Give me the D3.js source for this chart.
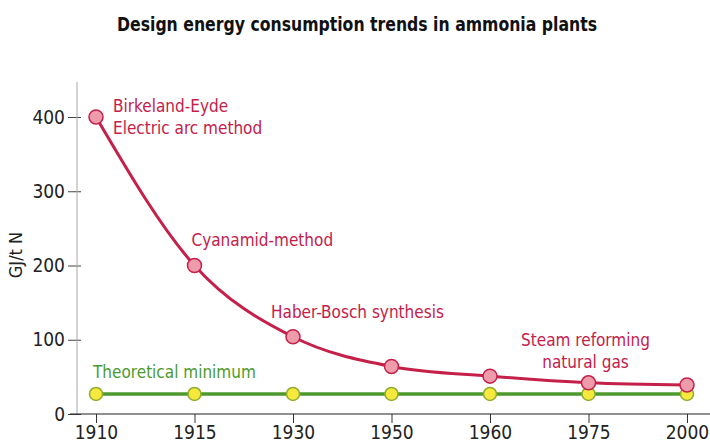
<!DOCTYPE html>
<html>
<head>
<meta charset="utf-8">
<script src="https://cdn.jsdelivr.net/npm/d3@7"></script>
<style>
  body { margin: 0; background: #fff; }
  svg text { font-family: "DejaVu Sans Condensed", "Liberation Sans Narrow", "Open Sans", sans-serif; }
</style>
</head>
<body>
<div id="chart"></div>
<script>
// Data
const years = ["1910", "1915", "1930", "1950", "1960", "1975", "2000"];
const designValues = [400, 200, 104, 64, 51, 42, 39];
const minimumValues = [27, 27, 27, 27, 27, 27, 27];
const yTicks = [0, 100, 200, 300, 400];

const processLabels = [
  { year: "1910", value: 400, lines: ["Birkeland-Eyde", "Electric arc method"], dx: 17, dy: -5, anchor: "start" },
  { year: "1915", value: 200, lines: ["Cyanamid-method"], dx: -3, dy: -20, anchor: "start" },
  { year: "1930", value: 104, lines: ["Haber-Bosch synthesis"], dx: -22, dy: -19, anchor: "start" },
  { year: "1975", value: 42, lines: ["Steam reforming", "natural gas"], dx: -3, dy: -37, anchor: "middle" }
];

const w = 710;
const h = 442;
const red = "#c4204a";
const green = "#4c9a2e";

const svg = d3.select("#chart")
  .append("svg")
  .attr("width", w)
  .attr("height", h);

// Scales
const xScale = d3.scalePoint()
  .domain(years)
  .range([96, 687]);

const yScale = d3.scaleLinear()
  .domain([0, 400])
  .range([414, 117]);

// Title
svg.append("text")
  .attr("x", 357)
  .attr("y", 31)
  .attr("text-anchor", "middle")
  .attr("textLength", 480)
  .attr("lengthAdjust", "spacingAndGlyphs")
  .style("font-size", "20px")
  .style("font-weight", "bold")
  .style("fill", "#111")
  .text("Design energy consumption trends in ammonia plants");

// Y axis
const yAxis = d3.axisLeft(yScale).tickValues(yTicks).tickSize(10).tickSizeOuter(0);
const gy = svg.append("g")
  .attr("transform", "translate(77,0)")
  .call(yAxis);
gy.select(".domain").remove();
gy.append("line")
  .attr("x1", 0).attr("x2", 0)
  .attr("y1", 82).attr("y2", 414)
  .attr("stroke", "#a8a8a8");
gy.selectAll(".tick line").attr("stroke", "#444").attr("x1", 4).attr("x2", -9);
gy.selectAll(".tick text")
  .attr("x", -12)
  .style("font-size", "19px")
  .style("fill", "#222");

svg.append("text")
  .attr("transform", "translate(22,255) rotate(-90)")
  .attr("text-anchor", "middle")
  .style("font-size", "18px")
  .style("fill", "#222")
  .text("GJ/t N");

// X axis
const xAxis = d3.axisBottom(xScale).tickSize(9).tickSizeOuter(0);
const gx = svg.append("g")
  .attr("transform", "translate(0,414)")
  .call(xAxis);
gx.select(".domain").remove();
gx.append("line")
  .attr("x1", 70).attr("x2", 710)
  .attr("y1", 0).attr("y2", 0)
  .attr("stroke", "#222")
  .attr("stroke-width", 1.2);
gx.selectAll(".tick line").attr("stroke", "#333");
gx.selectAll(".tick text")
  .attr("y", 12)
  .style("font-size", "19px")
  .style("fill", "#222");

// Lines
const minData = years.map((y, i) => ({ year: y, value: minimumValues[i] }));
const designData = years.map((y, i) => ({ year: y, value: designValues[i] }));

const straight = d3.line()
  .x(d => xScale(d.year))
  .y(d => yScale(d.value));

const smooth = d3.line()
  .x(d => xScale(d.year))
  .y(d => yScale(d.value))
  .curve(d3.curveMonotoneX);

svg.append("path")
  .datum(minData)
  .attr("d", straight)
  .attr("fill", "none")
  .attr("stroke", green)
  .attr("stroke-width", 3.5);

svg.selectAll(".minDot")
  .data(minData)
  .enter()
  .append("circle")
  .attr("class", "minDot")
  .attr("cx", d => xScale(d.year))
  .attr("cy", d => yScale(d.value))
  .attr("r", 6.5)
  .attr("fill", "#f6e83c")
  .attr("stroke", "#8fae2e")
  .attr("stroke-width", 1.5);

svg.append("path")
  .datum(designData)
  .attr("d", smooth)
  .attr("fill", "none")
  .attr("stroke", red)
  .attr("stroke-width", 3);

svg.selectAll(".designDot")
  .data(designData)
  .enter()
  .append("circle")
  .attr("class", "designDot")
  .attr("cx", d => xScale(d.year))
  .attr("cy", d => yScale(d.value))
  .attr("r", 7)
  .attr("fill", "#ee9cac")
  .attr("stroke", red)
  .attr("stroke-width", 1.5);

// Labels
processLabels.forEach(l => {
  const t = svg.append("text")
    .attr("x", xScale(l.year) + l.dx)
    .attr("y", yScale(l.value) + l.dy)
    .attr("text-anchor", l.anchor)
    .style("font-size", "17px")
    .style("fill", red);
  l.lines.forEach((line, i) => {
    t.append("tspan")
      .attr("x", xScale(l.year) + l.dx)
      .attr("dy", i === 0 ? 0 : 22)
      .text(line);
  });
});

svg.append("text")
  .attr("x", xScale("1910") - 3)
  .attr("y", yScale(minimumValues[0]) - 16)
  .style("font-size", "17px")
  .style("fill", green)
  .text("Theoretical minimum");
</script>
</body>
</html>
